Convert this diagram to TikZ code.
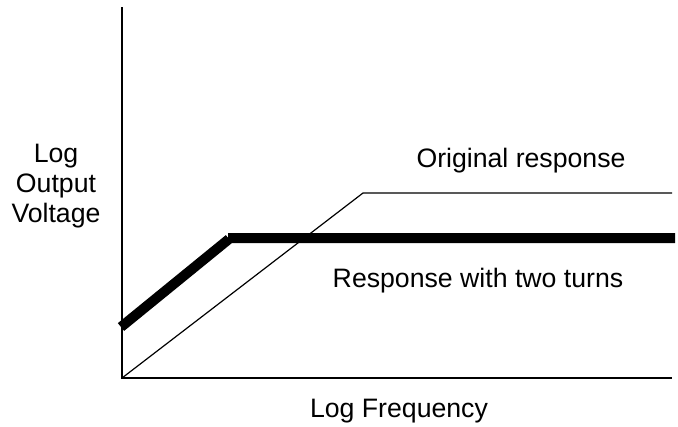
\documentclass[tikz,border=0pt]{standalone}
\usepackage{fontspec}
\setmainfont{Liberation Sans}
\usetikzlibrary{positioning}

\begin{document}
\begin{tikzpicture}[x=0.75pt,y=-0.75pt,font=\fontsize{20}{22.5}\selectfont,
  axis/.style={line width=1.5pt},
  orig/.style={line width=0.9pt},
  turns/.style={line width=7.5pt}]
  \useasboundingbox (0,0) rectangle (678,426);

  \coordinate (top)   at (122,7);
  \coordinate (o)     at (122,378);
  \coordinate (right) at (672,378);
  \coordinate (k1)    at (363,193);
  \coordinate (e1)    at (672,193);
  \coordinate (s2)    at (121,327);
  \coordinate (k2)    at (229,239);
  \coordinate (k2b)   at (228,238);
  \coordinate (e2)    at (675,238);

  \draw[axis] (top) -- (o) -- (right);
  \draw[orig] (o) -- (k1) -- (e1);
  \draw[turns] (s2) -- (k2) (k2b) -- (e2);

  \node[align=center,anchor=base] (ylab) at (56,222) {Log\\Output\\Voltage};
  \node[anchor=base] (origlab)  at (521,167) {Original response};
  \node[anchor=base] (turnslab) at (478,287) {Response with two turns};
  \node[anchor=base] (xlab)     at (399,417) {Log Frequency};
\end{tikzpicture}
\end{document}
